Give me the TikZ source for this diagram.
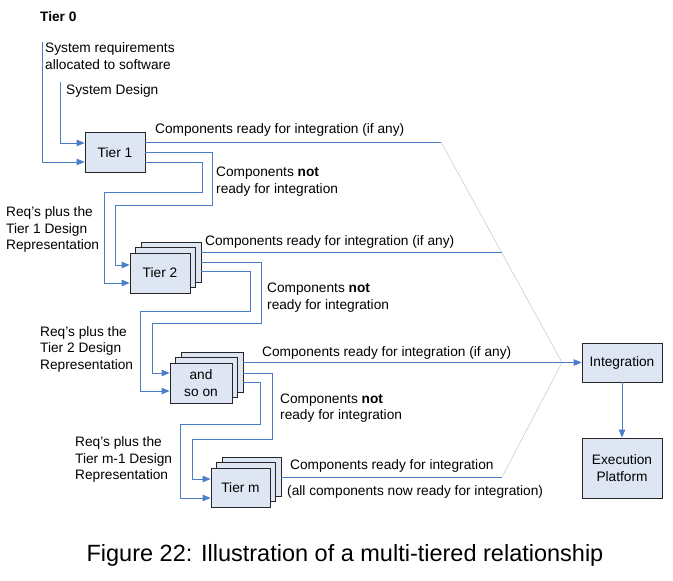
\documentclass[tikz,border=0pt]{standalone}
\usepackage{fontspec}
\setmainfont{Liberation Sans}
\usetikzlibrary{arrows.meta}
\usetikzlibrary{shadows}

\definecolor{flowblue}{RGB}{74,126,200}
\definecolor{boxfill}{RGB}{222,230,244}
\definecolor{feedgrey}{RGB}{185,198,225}

\begin{document}
\begin{tikzpicture}[x=1pt, y=-1pt,
  lbl/.style={font=\fontsize{13.7}{16.5}\selectfont, inner sep=0pt, anchor=west, align=left},
  tierbox/.style={draw=black!85, fill=boxfill, line width=0.8pt, minimum width=60pt,
    minimum height=40pt, inner sep=0pt, font=\fontsize{13.7}{16.5}\selectfont, align=center},
  stackbox/.style={tierbox, double copy shadow={shadow xshift=5.5pt, shadow yshift=5.5pt,
    fill=boxfill, draw=black!85}},
  flow/.style={draw=flowblue, line width=0.8pt},
  feed/.style={draw=feedgrey, line width=0.5pt},
  flowarrow/.style={-{Triangle[length=8pt,width=6.5pt]}}]

  % Fix the frame
  \useasboundingbox (0,0) rectangle (673,581);

  % Draw the tier boxes
  \node[tierbox] (tier1) at (115,152.5) {Tier 1};
  \node[stackbox] (tier2) at (160,273) {Tier 2};
  \node[stackbox, minimum width=62pt] (andso) at (201,383) {and\\so on};
  \node[stackbox, minimum width=59pt, minimum height=39pt] (tierm) at (240.5,487.5) {Tier m};
  \node[tierbox, minimum width=80pt, minimum height=39pt] (integ) at (622,362.5) {Integration};
  \node[tierbox, minimum width=80pt, minimum height=60pt] (exec) at (622,468) {Execution\\Platform};

  % Define the free ends and the points where the lines meet
  \coordinate (req0) at (42,42);
  \coordinate (des0) at (60,82);
  \coordinate (hub) at (562,362.5);
  \coordinate (join1) at (441,142);
  \coordinate (join2) at (501.5,252);
  \coordinate (joinm) at (502,477);

  % Draw the inputs to Tier 1
  \draw[flow, flowarrow] (req0) |- ([yshift=-9.5pt]tier1.west);
  \draw[flow, flowarrow] (des0) |- ([yshift=9.5pt]tier1.west);

  % Draw the lines of the ready components
  \draw[flow] ([yshift=10.5pt]tier1.east) -- (join1);
  \draw[feed] (join1) -- (hub) -- (joinm);
  \draw[flow] ([xshift=11pt,yshift=21pt]tier2.east) -- (join2);
  \draw[flow, flowarrow] ([xshift=11pt,yshift=20.5pt]andso.east) -- (integ.west);
  \draw[flow] ([xshift=11pt,yshift=10.5pt]tierm.east) -- (joinm);

  % Draw the lines of the components not ready
  \draw[flow, flowarrow] ([yshift=0.5pt]tier1.east) -| (212,205) -| (115,265) -- ([yshift=8pt]tier2.west);
  \draw[flow, flowarrow] ([yshift=-9.5pt]tier1.east) -| (202,192) -| (104,283) -- ([yshift=-10pt]tier2.west);
  \draw[flow, flowarrow] ([xshift=11pt,yshift=11pt]tier2.east) -| (261,323) -| (152,373) -- ([yshift=10pt]andso.west);
  \draw[flow, flowarrow] ([xshift=11pt,yshift=2pt]tier2.east) -| (250,311) -| (140,391) -- ([yshift=-8pt]andso.west);
  \draw[flow, flowarrow] ([xshift=11pt,yshift=10pt]andso.east) -| (272,439) -| (192,479) -- ([yshift=8.5pt]tierm.west);
  \draw[flow, flowarrow] ([xshift=11pt,yshift=1pt]andso.east) -| (260,424) -| (180,498) -- ([yshift=-10.5pt]tierm.west);

  % Draw the arrow to the platform
  \draw[flow, flowarrow] (integ) -- (exec);

  % Write the labels
  \node[lbl, font=\bfseries\fontsize{13.7}{16.5}\selectfont] (tier0) at (40,17) {Tier 0};
  \node[lbl] (sysreq) at (45,56) {System requirements\\allocated to software};
  \node[lbl] (sysdes) at (66,91) {System Design};
  \node[lbl] (ready1) at (155,130) {Components ready for integration (if any)};
  \node[lbl] (notready1) at (216,181.5) {Components \textbf{not}\\ready for integration};
  \node[lbl] (reqs1) at (6,229.5) {Req's plus the\\Tier 1 Design\\Representation};
  \node[lbl] (ready2) at (205,242) {Components ready for integration (if any)};
  \node[lbl] (notready2) at (267,297.5) {Components \textbf{not}\\ready for integration};
  \node[lbl] (reqs2) at (40,349) {Req's plus the\\Tier 2 Design\\Representation};
  \node[lbl] (ready3) at (262,353) {Components ready for integration (if any)};
  \node[lbl] (notready3) at (280,408) {Components \textbf{not}\\ready for integration};
  \node[lbl] (reqsm) at (75,459.5) {Req's plus the\\Tier m-1 Design\\Representation};
  \node[lbl] (readym) at (290,466) {Components ready for integration};
  \node[lbl] (allready) at (287,492) {(all components now ready for integration)};

  % Write the caption
  \node[font=\fontsize{23.5}{28}\selectfont, inner sep=0pt] (caption) at (345,555)
    {Figure 22: Illustration of a multi-tiered relationship};
\end{tikzpicture}
\end{document}
